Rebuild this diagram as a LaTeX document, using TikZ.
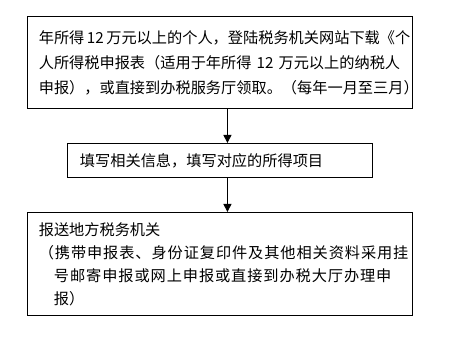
\documentclass[tikz,border=0pt]{standalone}
\usepackage{fontspec}
\setmainfont{Noto Sans CJK SC}
\newfontfamily\spreadfont[LetterSpace=6]{Noto Sans CJK SC}
\usetikzlibrary{arrows.meta}

\begin{document}
\begin{tikzpicture}[
            x=0.75pt, y=-0.75pt,
            every node/.style={font=\fontsize{11.4pt}{18.75pt}\selectfont},
            stepbox/.style={draw, line width=0.7pt, anchor=north west, align=left, inner xsep=8.5pt, inner ysep=0pt},
            arrow/.style={-{Triangle[width=6pt,length=6pt]}, line width=0.7pt}
        ]
        \useasboundingbox (0,0) rectangle (458,338);

        % Boxes
        \node[stepbox, minimum width=288.75pt, minimum height=69pt, text width=271.75pt] (apply) at (27,16)
            {年所得\,12\,万元以上的个人，登陆税务机关网站下载《个\\
             人所得税申报表（适用于年所得~12~万元以上的纳税人\\
             申报），或直接到办税服务厅领取。（每年一月至三月）};

        \node[stepbox, minimum width=228.75pt, minimum height=25.5pt, text width=210pt, inner xsep=9pt] (fill) at (67,143)
            {填写相关信息，填写对应的所得项目};

        \node[stepbox, minimum width=288.75pt, minimum height=77.25pt, text width=271.75pt,
              font=\fontsize{11.4pt}{17.25pt}\selectfont] (submit) at (27,212)
            {报送地方税务机关\\
             {\spreadfont （携带申报表、身份证复印件及其他相关资料采用挂}\\
             \hspace*{1em}{\spreadfont 号邮寄申报或网上申报或直接到办税大厅办理申}\\
             \hspace*{1em}报）};

        % Arrows
        \draw[arrow] ([xshift=5.6pt]apply.south) -- ([xshift=5.6pt]fill.north);
        \draw[arrow] ([xshift=5.6pt]fill.south) -- ([xshift=5.6pt]submit.north);

    \end{tikzpicture}
\end{document}
